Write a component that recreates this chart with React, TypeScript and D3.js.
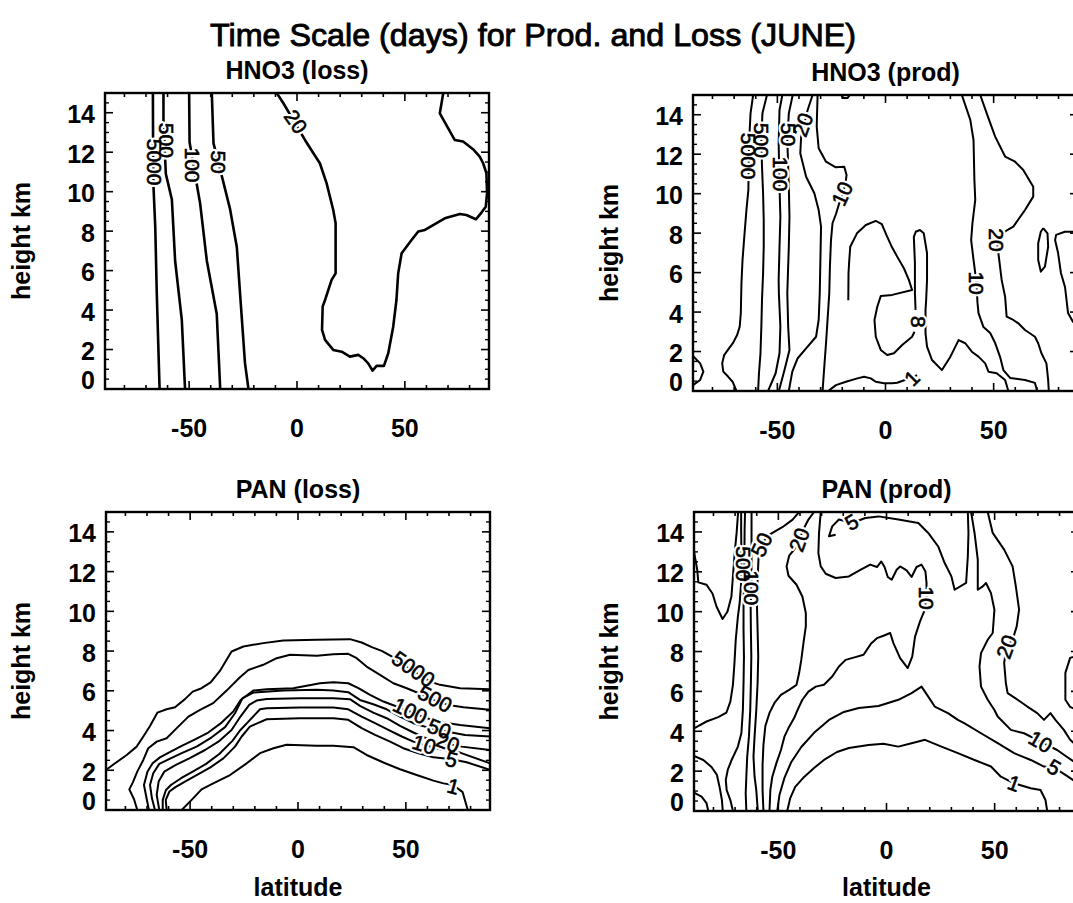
import React from 'react';
import * as d3 from 'd3';

type P = [number, number];
type Lbl = { text: string; lat: number; km: number; rot: number };

// ---------- axis ticks ----------
const xMajorTicks = [-50, 0, 50];
const xMinorTicks = [-80, -70, -60, -40, -30, -20, -10, 10, 20, 30, 40, 60, 70, 80];
const yMajorTicks = [0, 2, 4, 6, 8, 10, 12, 14];
const latDomain: P = [-89, 89];
const kmDomain: P = [0, 15];

// ---------- HNO3 (loss) contours [lat, km] ----------
const hno3Loss5000: P[] = [[-66.8, 15], [-66.7, 12.0], [-66.5, 10.2], [-65.7, 8.2], [-65.0, 4.85], [-63.7, 0]];
const hno3Loss500: P[] = [[-61.9, 15], [-61.9, 13.6], [-60.8, 10.9], [-58.0, 9.6], [-56.5, 6.5], [-53.4, 3.5], [-51.9, 0]];
const hno3Loss100: P[] = [[-50.0, 15], [-49.8, 12.5], [-46.5, 10.4], [-44.9, 9.4], [-41.8, 6.5], [-37.2, 3.8], [-35.6, 0]];
const hno3Loss50: P[] = [[-39.5, 15], [-38.7, 12.45], [-34.4, 10.6], [-31.0, 9.1], [-27.9, 7.2], [-26.4, 4.85], [-24.1, 1.3], [-22.5, 0]];
const hno3Loss20: P[] = [[-9.4, 15], [-6.3, 14.48], [3.7, 12.62], [7.6, 11.95], [10.6, 11.44], [13.7, 10.43], [16.8, 9.07], [17.9, 8.4], [17.9, 5.86], [16.05, 5.53], [13.0, 4.51], [11.9, 4.18], [11.6, 3.0], [13.0, 2.49], [16.8, 1.98], [20.7, 1.89], [24.5, 1.64], [28.4, 1.73], [30.7, 1.56], [33.0, 1.3], [35.0, 0.93], [36.9, 1.17], [40.3, 1.17], [42.3, 1.81], [44.6, 3.16], [46.1, 4.51], [46.9, 5.86], [48.5, 6.88], [53.1, 7.55], [56.2, 7.98], [59.3, 8.06], [63.1, 8.31], [68.5, 8.65], [75.5, 8.87], [78.5, 8.82], [82.9, 8.6], [85.5, 8.94], [87.5, 9.24], [88.1, 9.92], [87.8, 10.93], [86.3, 11.44], [84.7, 11.78], [81.6, 12.15], [77.0, 12.54], [73.1, 12.62], [70.1, 13.21], [66.2, 13.97], [67.8, 15]];
const hno3LossLabels: Lbl[] = [
  { text: '5000', lat: -65.9, km: 11.5, rot: 90 },
  { text: '500', lat: -60.5, km: 12.6, rot: 90 },
  { text: '100', lat: -48.3, km: 11.35, rot: 90 },
  { text: '50', lat: -36.3, km: 11.5, rot: 90 },
  { text: '20', lat: -0.5, km: 13.55, rot: 55 },
];

// ---------- HNO3 (prod) contours ----------
const hno3Prod5000: P[] = [[-61.2, 15], [-62.4, 14.07], [-63.1, 12.55], [-63.4, 10.19], [-64.3, 9.17], [-65.4, 7.65], [-66.1, 6.64], [-66.6, 5.46], [-66.9, 3.94], [-67.4, 3.26], [-68.6, 2.84], [-70.4, 2.45], [-72.7, 2.11], [-74.6, 1.82], [-75.5, 1.4], [-75.0, 0.98], [-72.7, 0.72], [-70.7, 0.47], [-68.9, 0]];
const hno3Prod500: P[] = [[-54.8, 15], [-56.9, 14.07], [-57.4, 12.72], [-57.1, 11.37], [-56.6, 10.02], [-56.3, 8.67], [-56.3, 7.31], [-56.6, 5.97], [-57.1, 4.61], [-57.4, 3.26], [-57.8, 1.91], [-58.5, 0.9], [-58.9, 0]];
const hno3Prod100: P[] = [[-47.7, 15], [-49.0, 14.24], [-49.4, 12.55], [-49.0, 10.35], [-48.6, 8.83], [-49.0, 7.31], [-49.4, 5.63], [-49.3, 4.95], [-48.6, 3.26], [-49.0, 1.91], [-50.8, 0.9], [-54.3, 0]];
const hno3Prod50: P[] = [[-42.9, 15], [-44.7, 14.07], [-45.4, 12.72], [-44.7, 10.35], [-44.4, 8.83], [-44.7, 7.31], [-45.1, 5.97], [-45.4, 4.95], [-45.0, 3.26], [-44.4, 2.08], [-46.7, 1.06], [-49.3, 0]];
const hno3Prod20a: P[] = [[-33.7, 15], [-36.0, 14.24], [-39.0, 12.89], [-39.4, 12.05], [-36.7, 10.86], [-32.9, 10.02], [-30.9, 9.17], [-29.8, 8.33], [-30.1, 6.64], [-30.4, 4.95], [-30.9, 3.6], [-32.1, 2.75], [-36.7, 2.16], [-40.6, 1.66], [-43.1, 0.98], [-44.7, 0]];
const hno3Prod10a: P[] = [[-31.4, 15], [-31.8, 13.4], [-30.9, 12.3], [-27.5, 11.62], [-23.2, 11.34], [-19.1, 11.37], [-18.0, 10.95], [-18.6, 10.44], [-21.4, 9.51], [-22.9, 8.97], [-24.5, 8.5], [-25.2, 7.65], [-25.7, 6.3], [-26.0, 4.95], [-26.8, 3.6], [-27.5, 2.42], [-28.3, 1.23], [-29.1, 0]];
const hno3Prod8a: P[] = [[-17.2, 4.6], [-17.1, 5.97], [-16.8, 6.55], [-16.3, 7.31], [-13.2, 7.99], [-9.1, 8.41], [-4.5, 8.62], [-1.7, 8.46], [0.4, 7.91], [2.7, 7.35], [5.4, 6.81], [8.5, 6.22], [10.8, 5.63], [12.3, 5.12], [3.1, 4.87], [-2.2, 4.81], [-3.8, 4.27], [-5.1, 3.6], [-4.5, 2.75], [-2.2, 2.08], [0.8, 1.82], [3.9, 1.91], [7.7, 2.33], [12.3, 2.75], [13.4, 3.0]];
const hno3Prod8b: P[] = [[13.9, 4.11], [13.6, 4.97], [13.6, 6.49], [13.1, 7.81], [14.0, 8.07], [15.9, 8.16], [17.7, 7.99], [19.2, 6.98], [19.2, 5.63], [18.8, 4.61], [18.5, 4.11], [18.5, 2.92], [19.2, 2.25], [21.5, 1.57], [26.1, 1.06], [30.0, 1.74], [33.8, 2.58], [36.9, 2.42], [39.9, 1.99], [43.0, 1.74], [46.1, 1.4], [47.6, 0.98], [51.4, 0.9], [55.3, 0.56], [56.8, 0]];
const hno3Prod1: P[] = [[-26.5, 0], [-22.9, 0.3], [-18.3, 0.47], [-13.0, 0.64], [-9.9, 0.72], [-6.8, 0.64], [-4.5, 0.47], [-0.7, 0.39], [3.1, 0.39], [5.4, 0.42], [9.0, 0.56], [12.2, 0.66], [14.6, 0.81]];
const hno3Prod10b: P[] = [[35.3, 15], [39.2, 13.74], [40.7, 12.72], [41.1, 10.69], [41.5, 9.68], [40.2, 8.51], [39.6, 7.65], [40.7, 6.64], [42.1, 5.47], [42.5, 4.51], [43.0, 3.95], [45.3, 3.24], [48.4, 2.94], [50.7, 2.43], [53.0, 1.72], [54.5, 1.06], [57.6, 0.66], [64.5, 0.56], [69.1, 0.41], [70.1, 0]];
const hno3Prod20b: P[] = [[43.8, 15], [46.8, 14.07], [50.7, 12.89], [55.3, 11.88], [59.9, 11.62], [63.7, 11.2], [68.3, 10.35], [68.3, 9.85], [64.5, 9.17], [59.1, 8.33], [53.7, 7.99], [51.4, 7.65], [52.2, 6.98], [53.7, 5.63], [55.3, 4.78], [56.0, 3.77], [59.1, 3.6], [61.4, 3.43], [64.5, 3.09], [69.1, 2.75], [70.6, 2.42], [72.1, 1.91], [74.4, 1.4], [75.2, 0.56], [75.5, 0]];
const hno3ProdOval: P[] = [[72.9, 8.25], [74.9, 7.99], [75.2, 7.31], [73.7, 6.3], [71.8, 6.05], [70.6, 6.64], [70.6, 7.49], [71.8, 8.07], [72.9, 8.25]];
const hno3ProdEdgeR: P[] = [[89, 8.06], [82.9, 8.07], [78.9, 7.91], [78.4, 7.65], [79.8, 6.99], [81.1, 5.98], [83.0, 5.27], [84.4, 3.95], [86.7, 3.5], [89, 3.4]];
const hno3ProdEdgeL: P[] = [[-89, 1.77], [-85.7, 1.4], [-84.2, 0.98], [-85.7, 0.56], [-89, 0.3]];
const hno3ProdTop: P[] = [[-20.5, 15], [-19.5, 14.85], [-17.5, 14.85], [-16.5, 15]];
const hno3ProdLabels: Lbl[] = [
  { text: '5000', lat: -63.2, km: 11.9, rot: 90 },
  { text: '500', lat: -57.2, km: 12.7, rot: 90 },
  { text: '100', lat: -48.6, km: 11.0, rot: 90 },
  { text: '50', lat: -45.0, km: 13.0, rot: 90 },
  { text: '20', lat: -38.3, km: 13.5, rot: -70 },
  { text: '10', lat: -20.1, km: 10.0, rot: -65 },
  { text: '8', lat: 15.4, km: 3.5, rot: 90 },
  { text: '1', lat: 12.2, km: 0.66, rot: -45 },
  { text: '10', lat: 42.1, km: 5.47, rot: 90 },
  { text: '20', lat: 51.4, km: 7.65, rot: 90 },
];

// ---------- PAN (loss) contours ----------
const panLoss5000: P[] = [[-89, 2.02], [-84.8, 2.35], [-79.4, 2.77], [-74.8, 3.19], [-71.7, 3.7], [-68.6, 4.23], [-65.2, 4.9], [-60.9, 5.07], [-57.0, 5.17], [-52.4, 5.58], [-48.8, 5.96], [-44.7, 6.13], [-40.5, 6.42], [-36.2, 7.0], [-33.1, 7.56], [-30.8, 7.98], [-25.3, 8.23], [-16.1, 8.4], [-6.8, 8.53], [8.7, 8.57], [24.1, 8.6], [29.5, 8.43], [34.2, 8.2], [38.8, 8.01], [43.4, 7.73], [48.8, 7.31], [55.0, 6.89], [61.2, 6.47], [65.8, 6.3], [75.1, 6.13], [89, 6.08]];
const panLoss500: P[] = [[-74.5, 0], [-76.0, 0.54], [-78.2, 1.04], [-76.6, 1.38], [-74.5, 1.93], [-71.7, 2.52], [-69.4, 3.11], [-65.5, 3.44], [-60.9, 3.61], [-56.2, 4.12], [-50.8, 4.7], [-45.4, 5.04], [-39.3, 5.38], [-33.1, 6.01], [-26.9, 6.68], [-23.0, 7.05], [-16.1, 7.31], [-9.9, 7.64], [-3.7, 7.81], [8.7, 7.76], [16.4, 7.84], [23.3, 7.86], [27.2, 7.64], [31.8, 7.22], [38.0, 6.8], [44.2, 6.38], [50.4, 6.13], [56.6, 5.85], [62.8, 5.54], [69.7, 5.29], [76.7, 5.17], [89, 5.04]];
const panLoss100: P[] = [[-69.1, 0], [-70.2, 0.59], [-71.4, 1.26], [-69.8, 1.93], [-67.4, 2.35], [-64.0, 2.65], [-59.0, 2.94], [-53.9, 3.23], [-47.7, 3.56], [-41.6, 3.9], [-35.4, 4.4], [-30.0, 4.96], [-26.6, 5.54], [-20.7, 6.01], [-14.5, 6.08], [-2.2, 6.13], [10.2, 6.38], [16.4, 6.43], [23.3, 6.38], [28.0, 6.13], [33.4, 5.79], [39.6, 5.46], [45.7, 5.21], [51.9, 4.96], [59.7, 4.62], [67.4, 4.4], [75.1, 4.28], [89, 4.12]];
const panLoss50: P[] = [[-66.3, 0], [-67.7, 0.59], [-68.6, 1.26], [-67.1, 1.85], [-64.3, 2.32], [-59.3, 2.59], [-53.9, 2.86], [-47.0, 3.19], [-40.0, 3.66], [-33.8, 4.17], [-29.2, 4.87], [-25.7, 5.63], [-20.7, 5.91], [-6.8, 6.01], [8.7, 6.05], [16.4, 6.01], [23.3, 5.93], [28.7, 5.54], [34.9, 5.32], [41.1, 5.07], [47.3, 4.7], [53.5, 4.37], [61.2, 4.12], [68.9, 3.95], [77.4, 3.78], [89, 3.7]];
const panLoss20: P[] = [[-64.3, 0], [-65.5, 0.76], [-64.6, 1.43], [-62.0, 1.93], [-56.6, 2.27], [-50.4, 2.6], [-43.1, 3.02], [-36.9, 3.44], [-30.8, 4.03], [-27.2, 4.62], [-22.6, 5.29], [-19.2, 5.51], [-14.5, 5.59], [0.9, 5.63], [16.4, 5.63], [24.1, 5.58], [28.7, 5.24], [34.9, 4.9], [41.1, 4.62], [47.3, 4.23], [53.5, 3.9], [61.2, 3.53], [68.9, 3.33], [75.9, 3.19], [89, 3.02]];
const panLoss10: P[] = [[-62.7, 0], [-62.7, 0.51], [-61.2, 1.01], [-58.9, 1.26], [-54.2, 1.6], [-48.8, 1.93], [-42.6, 2.32], [-36.5, 2.82], [-30.3, 3.49], [-26.9, 4.0], [-23.0, 4.45], [-17.6, 5.07], [-14.5, 5.12], [0.9, 5.16], [16.4, 5.16], [23.3, 5.07], [29.5, 4.7], [35.7, 4.37], [41.9, 4.03], [48.1, 3.7], [53.5, 3.44], [58.1, 3.28], [65.8, 3.06], [75.1, 2.89], [89, 2.35]];
const panLoss5: P[] = [[-60.9, 0], [-61.3, 0.51], [-59.6, 0.93], [-57.0, 1.14], [-52.4, 1.43], [-47.0, 1.76], [-40.8, 2.13], [-34.6, 2.6], [-29.2, 3.19], [-26.1, 3.7], [-22.3, 4.2], [-14.5, 4.57], [0.9, 4.62], [16.4, 4.62], [23.3, 4.54], [29.5, 4.12], [35.7, 3.78], [42.7, 3.44], [48.8, 3.11], [55.8, 2.86], [62.8, 2.65], [71.2, 2.55], [78.2, 2.4], [89, 2.02]];
const panLoss1: P[] = [[-53.9, 0], [-49.3, 0.51], [-44.7, 1.04], [-39.3, 1.34], [-31.5, 1.76], [-23.8, 2.35], [-17.6, 2.86], [-11.4, 3.11], [-5.3, 3.28], [8.7, 3.23], [16.4, 3.23], [25.7, 3.16], [31.8, 2.77], [39.6, 2.39], [47.3, 2.05], [55.0, 1.76], [62.8, 1.48], [67.4, 1.34], [72.0, 1.26], [76.3, 0.9], [78.7, 0]];
const panLossLabels: Lbl[] = [
  { text: '5000', lat: 53.5, km: 7.1, rot: 35 },
  { text: '500', lat: 63.5, km: 5.6, rot: 28 },
  { text: '100', lat: 52.0, km: 5.0, rot: 25 },
  { text: '50', lat: 65.5, km: 4.1, rot: 22 },
  { text: '20', lat: 69.5, km: 3.4, rot: 20 },
  { text: '10', lat: 58.5, km: 3.3, rot: 18 },
  { text: '5', lat: 71.2, km: 2.55, rot: 15 },
  { text: '1', lat: 72.0, km: 1.2, rot: 15 },
];

// ---------- PAN (prod) contours ----------
const panProdA: P[] = [[-89, 13.02], [-87.5, 12.1], [-87.0, 11.47], [-83.2, 11.35], [-80.4, 10.9], [-78.6, 10.26], [-75.8, 9.63], [-73.5, 10.01], [-71.7, 10.76], [-71.0, 11.77], [-70.2, 12.94], [-69.3, 13.95], [-68.6, 15]];
const panProdB: P[] = [[-89, 4.15], [-83.2, 4.49], [-77.8, 4.71], [-74.0, 4.94], [-72.2, 5.49], [-71.0, 6.33], [-70.3, 7.42], [-69.7, 8.59], [-68.7, 9.76], [-67.9, 10.43], [-67.1, 11.6], [-67.1, 12.94], [-67.2, 14.11], [-67.2, 15]];
const panProd500: P[] = [[-71.0, 0], [-72.2, 0.55], [-73.9, 1.05], [-74.3, 1.56], [-73.4, 2.06], [-71.6, 2.56], [-68.7, 3.23], [-67.1, 3.9], [-66.4, 5.07], [-66.1, 6.41], [-65.9, 7.75], [-66.1, 9.09], [-66.1, 10.26], [-65.8, 11.6], [-65.7, 12.86], [-65.6, 14.11], [-65.4, 15]];
const panProd100: P[] = [[-64.8, 0], [-65.1, 0.89], [-64.8, 1.72], [-64.4, 2.73], [-63.6, 3.73], [-63.0, 5.07], [-62.7, 6.41], [-62.5, 7.75], [-62.7, 9.09], [-62.8, 10.26], [-62.5, 11.35], [-62.4, 12.61], [-62.4, 13.86], [-62.4, 15]];
const panProd50: P[] = [[-59.5, 0], [-60.2, 1.05], [-61.0, 1.72], [-61.5, 2.73], [-61.0, 3.73], [-60.2, 5.07], [-59.6, 6.41], [-59.3, 7.75], [-59.6, 9.09], [-59.9, 10.35], [-59.6, 11.6], [-59.2, 12.61], [-58.3, 13.36], [-54.1, 13.86], [-48.0, 14.25], [-43.4, 14.62], [-40.4, 15]];
const panProd20a: P[] = [[-33.5, 15], [-36.1, 14.62], [-38.1, 14.2], [-40.4, 13.61], [-42.7, 13.11], [-45.0, 12.81], [-46.2, 12.27], [-45.3, 11.8], [-41.6, 11.35], [-38.9, 10.76], [-37.3, 9.93], [-37.3, 9.26], [-38.4, 8.42], [-39.4, 7.58], [-40.4, 6.92], [-41.6, 6.33], [-45.0, 6.08], [-48.8, 5.83], [-51.8, 5.42], [-54.1, 4.92], [-56.0, 4.27], [-56.9, 3.31], [-57.3, 2.31], [-57.3, 1.05], [-56.9, 0]];
const panProd10a: P[] = [[-30.4, 15], [-31.2, 13.95], [-31.5, 12.94], [-30.4, 12.27], [-28.1, 11.9], [-23.5, 11.69], [-17.4, 11.77], [-12.1, 12.1], [-7.5, 12.36], [-4.4, 12.24], [-2.4, 12.52], [-0.9, 12.24], [0.6, 11.74], [2.4, 11.6], [4.7, 12.1], [6.3, 12.27], [9.3, 12.07], [11.6, 11.74], [13.9, 12.24], [16.2, 12.36], [18.0, 12.02], [18.5, 11.44], [18.5, 10.68], [17.4, 10.01], [15.5, 9.51], [13.2, 8.75], [11.9, 7.75], [9.8, 7.17], [6.3, 7.67], [3.2, 8.42], [1.7, 8.93], [-1.4, 8.79], [-4.4, 8.67], [-7.0, 8.42], [-10.6, 7.84], [-14.4, 7.72], [-18.9, 7.58], [-22.0, 7.25], [-25.1, 6.75], [-28.9, 6.33], [-32.7, 6.24], [-36.1, 5.99], [-38.9, 5.58], [-41.1, 5.07], [-42.7, 4.66], [-45.0, 4.23], [-47.2, 3.73], [-48.8, 3.06], [-50.9, 2.4], [-52.8, 1.72], [-53.7, 1.05], [-54.1, 0]];
const panProd5a: P[] = [[-50.5, 0], [-49.5, 0.8], [-47.2, 1.66], [-44.0, 2.46], [-39.4, 3.21], [-33.5, 3.92], [-26.6, 4.57], [-19.7, 4.97], [-12.8, 5.17], [-3.7, 5.27], [5.5, 5.58], [11.6, 5.91], [16.2, 6.24], [19.3, 5.74], [22.3, 5.24], [28.4, 4.91], [33.0, 4.57], [36.1, 4.4], [43.7, 3.9], [51.4, 3.4], [59.0, 2.9], [66.7, 2.56], [72.8, 2.23], [77.5, 2.16], [82.0, 1.86], [89, 1.36]];
const panProd1: P[] = [[-45.9, 0], [-44.5, 0.65], [-42.2, 1.21], [-38.1, 1.71], [-33.5, 2.16], [-28.9, 2.56], [-22.9, 2.96], [-17.4, 3.16], [-8.3, 3.31], [-1.4, 3.37], [5.5, 3.23], [11.6, 3.4], [17.8, 3.57], [25.4, 3.23], [33.0, 2.9], [40.7, 2.56], [48.3, 2.23], [52.9, 1.72], [59.0, 1.39], [66.7, 1.14], [71.2, 1.05], [73.5, 0.55], [74.3, 0]];
const panProd5b: P[] = [[-23.5, 13.86], [-26.6, 13.78], [-25.1, 14.28], [-22.0, 14.62], [-15.9, 14.45], [-9.8, 14.7], [-3.7, 14.78], [5.5, 14.62], [14.7, 14.45], [19.3, 13.95], [23.9, 13.27], [26.9, 12.44], [30.0, 11.77], [31.5, 11.1], [36.8, 11.44], [37.6, 12.77], [37.9, 13.95], [37.6, 15]];
const panProd10b: P[] = [[39.1, 15], [40.7, 13.95], [42.2, 12.61], [42.2, 11.1], [44.5, 11.27], [46.0, 11.44], [48.3, 10.93], [49.9, 10.1], [49.1, 8.93], [46.8, 8.59], [43.7, 7.92], [43.0, 7.25], [43.7, 6.24], [46.8, 5.58], [49.9, 5.07], [51.4, 4.74], [57.5, 4.07], [63.6, 3.9], [71.2, 3.48], [78.9, 3.06], [83.5, 2.71], [89, 2.31]];
const panProd20b: P[] = [[46.8, 15], [49.1, 13.95], [54.4, 13.11], [58.3, 12.27], [59.8, 11.27], [61.3, 10.1], [60.2, 9.26], [58.3, 8.59], [55.5, 8.24], [54.4, 7.42], [55.2, 6.41], [56.0, 5.91], [60.6, 5.58], [65.1, 5.24], [69.7, 4.91], [72.8, 4.57], [75.8, 4.91], [78.1, 4.57], [82.0, 4.07], [84.9, 3.57], [89, 3.16]];
const panProdEdgeR: P[] = [[89, 7.83], [84.9, 7.68], [82.7, 6.93], [82.7, 5.58], [84.9, 5.22], [89, 5.02]];
const panProdEdgeL1: P[] = [[-89, 2.76], [-84.7, 2.56], [-80.9, 2.21], [-78.4, 1.81], [-77.1, 1.16], [-76.1, 0.55], [-75.7, 0]];
const panProdEdgeL2: P[] = [[-89, 0.92], [-85.5, 0.72], [-83.2, 0.39], [-82.4, 0]];
const panProdLabels: Lbl[] = [
  { text: '500', lat: -66.2, km: 12.4, rot: 90 },
  { text: '100', lat: -62.5, km: 11.2, rot: 90 },
  { text: '50', lat: -57.8, km: 13.36, rot: -65 },
  { text: '20', lat: -40.4, km: 13.61, rot: -70 },
  { text: '5', lat: -16.1, km: 14.5, rot: -30 },
  { text: '10', lat: 18.5, km: 10.68, rot: 90 },
  { text: '20', lat: 55.5, km: 8.24, rot: -70 },
  { text: '10', lat: 71.2, km: 3.48, rot: 30 },
  { text: '5', lat: 77.5, km: 2.2, rot: 30 },
  { text: '1', lat: 59.0, km: 1.39, rot: 20 },
];

const FONT = "'Liberation Sans', Arial, Helvetica, sans-serif";

type Panel = {
  key: string; title: string; l: number; r: number; t: number; b: number;
  lines: P[][]; labels: Lbl[]; xTitle: boolean; yTitleX: number; lw: number;
};

const panels: Panel[] = [
  { key: 'p1', title: 'HNO3 (loss)', l: 105, r: 489, t: 93, b: 389, xTitle: false, yTitleX: 30, lw: 2.6,
    lines: [hno3Loss5000, hno3Loss500, hno3Loss100, hno3Loss50, hno3Loss20], labels: hno3LossLabels },
  { key: 'p2', title: 'HNO3 (prod)', l: 693, r: 1078, t: 95, b: 391, xTitle: false, yTitleX: 618, lw: 2.0,
    lines: [hno3Prod5000, hno3Prod500, hno3Prod100, hno3Prod50, hno3Prod20a, hno3Prod10a, hno3Prod8a, hno3Prod8b, hno3Prod1, hno3Prod10b, hno3Prod20b, hno3ProdOval, hno3ProdEdgeR, hno3ProdEdgeL, hno3ProdTop], labels: hno3ProdLabels },
  { key: 'p3', title: 'PAN (loss)', l: 106, r: 490, t: 512, b: 810, xTitle: true, yTitleX: 30, lw: 2.0,
    lines: [panLoss5000, panLoss500, panLoss100, panLoss50, panLoss20, panLoss10, panLoss5, panLoss1], labels: panLossLabels },
  { key: 'p4', title: 'PAN (prod)', l: 694, r: 1079, t: 512, b: 811, xTitle: true, yTitleX: 618, lw: 2.0,
    lines: [panProdA, panProdB, panProd500, panProd100, panProd50, panProd20a, panProd10a, panProd5a, panProd1, panProd5b, panProd10b, panProd20b, panProdEdgeR, panProdEdgeL1, panProdEdgeL2], labels: panProdLabels },
];

function PanelView({ p }: { p: Panel }) {
  const x = d3.scaleLinear().domain(latDomain).range([p.l, p.r]);
  const y = d3.scaleLinear().domain(kmDomain).range([p.b, p.t]);
  const line = d3.line<P>().x(d => x(d[0])).y(d => y(d[1]));
  const yMinor = d3.range(0.5, 15, 0.5).filter(v => v % 2 !== 0);
  const clipId = `clip-${p.key}`;
  return (
    <g>
      <defs>
        <clipPath id={clipId}>
          <rect x={p.l} y={p.t} width={p.r - p.l} height={p.b - p.t} />
        </clipPath>
      </defs>
      <g clipPath={`url(#${clipId})`}>
        {p.lines.map((pts, i) => (
          <path key={i} d={line(pts) || ''} fill="none" stroke="#000" strokeWidth={p.lw} strokeLinejoin="round" />
        ))}
        {p.labels.map((lb, i) => (
          <text key={`h${i}`} transform={`translate(${x(lb.lat)},${y(lb.km)}) rotate(${lb.rot})`}
            textAnchor="middle" dominantBaseline="central" fontFamily={FONT} fontSize={21}
            fill="#fff" stroke="#fff" strokeWidth={5} strokeLinejoin="round">{lb.text}</text>
        ))}
        {p.labels.map((lb, i) => (
          <text key={`t${i}`} transform={`translate(${x(lb.lat)},${y(lb.km)}) rotate(${lb.rot})`}
            textAnchor="middle" dominantBaseline="central" fontFamily={FONT} fontSize={21}
            fill="#000" stroke="#000" strokeWidth={0.6}>{lb.text}</text>
        ))}
      </g>
      {xMajorTicks.map(v => (
        <g key={`xM${v}`} stroke="#000" strokeWidth={1.6}>
          <line x1={x(v)} x2={x(v)} y1={p.b} y2={p.b - 8} />
          <line x1={x(v)} x2={x(v)} y1={p.t} y2={p.t + 8} />
        </g>
      ))}
      {xMinorTicks.map(v => (
        <g key={`xm${v}`} stroke="#000" strokeWidth={1.6}>
          <line x1={x(v)} x2={x(v)} y1={p.b} y2={p.b - 4} />
          <line x1={x(v)} x2={x(v)} y1={p.t} y2={p.t + 4} />
        </g>
      ))}
      {yMajorTicks.map(v => (
        <g key={`yM${v}`} stroke="#000" strokeWidth={1.6}>
          <line x1={p.l} x2={p.l + 8} y1={y(v)} y2={y(v)} />
          <line x1={p.r} x2={p.r - 8} y1={y(v)} y2={y(v)} />
        </g>
      ))}
      {yMinor.map(v => (
        <g key={`ym${v}`} stroke="#000" strokeWidth={1.4}>
          <line x1={p.l} x2={p.l + 4} y1={y(v)} y2={y(v)} />
          <line x1={p.r} x2={p.r - 4} y1={y(v)} y2={y(v)} />
        </g>
      ))}
      <rect x={p.l} y={p.t} width={p.r - p.l} height={p.b - p.t} fill="none" stroke="#000" strokeWidth={2.4} />
      {xMajorTicks.map(v => (
        <text key={`xl${v}`} x={x(v)} y={p.b + 39} textAnchor="middle" dominantBaseline="central"
          fontFamily={FONT} fontWeight="bold" fontSize={25}>{v}</text>
      ))}
      {yMajorTicks.map(v => (
        <text key={`yl${v}`} x={p.l - 10} y={v === 0 ? p.b - 9 : y(v) + 1.5} textAnchor="end" dominantBaseline="central"
          fontFamily={FONT} fontWeight="bold" fontSize={25}>{v}</text>
      ))}
      <text x={(p.l + p.r) / 2} y={p.t - 14} textAnchor="middle" fontFamily={FONT} fontWeight="bold" fontSize={25}>{p.title}</text>
      <text transform={`translate(${p.yTitleX},${(p.t + p.b) / 2}) rotate(-90)`} textAnchor="middle"
        fontFamily={FONT} fontWeight="bold" fontSize={25}>height km</text>
      {p.xTitle && (
        <text x={x(0)} y={896} textAnchor="middle" fontFamily={FONT} fontWeight="bold" fontSize={25}>latitude</text>
      )}
    </g>
  );
}

export default function App() {
  return (
    <svg width={1073} height={903} style={{ position: 'absolute', left: 0, top: 0, background: '#fff' }}>
      <rect x={0} y={0} width={1073} height={903} fill="#fff" />
      <text x={533} y={46} textAnchor="middle" fontFamily={FONT} fontSize={32}
        stroke="#000" strokeWidth={0.9}
        textLength={646} lengthAdjust="spacingAndGlyphs">Time Scale (days) for Prod. and Loss (JUNE)</text>
      {panels.map(p => <PanelView key={p.key} p={p} />)}
    </svg>
  );
}
